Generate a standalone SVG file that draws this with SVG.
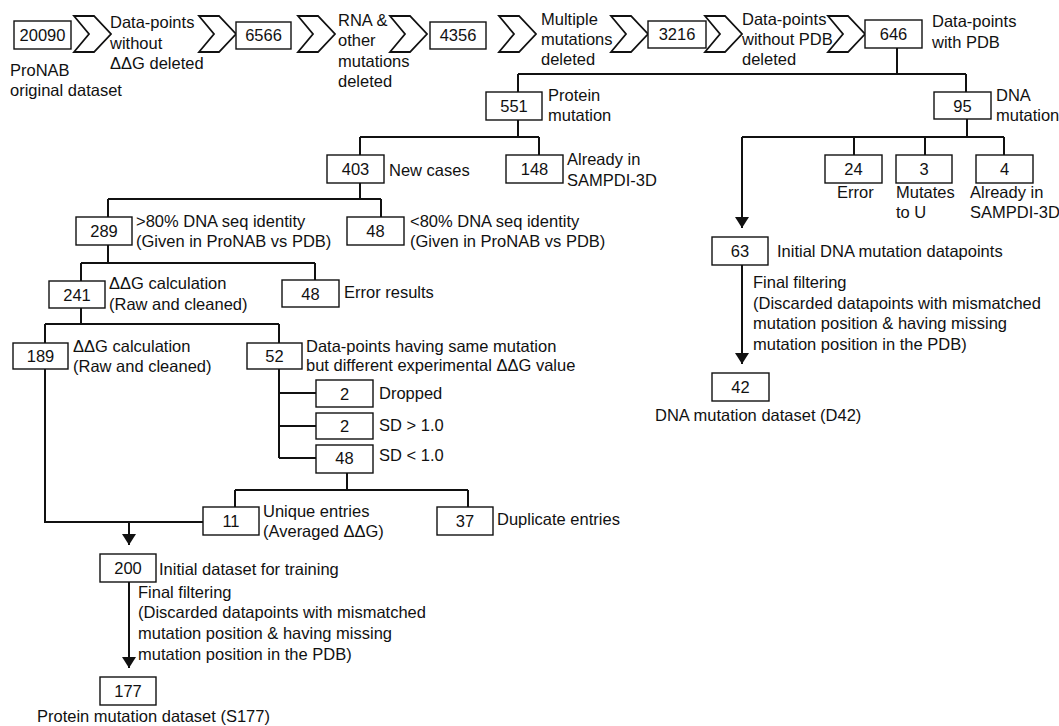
<svg xmlns="http://www.w3.org/2000/svg" width="1059" height="726" viewBox="0 0 1059 726">
<defs>
<style>
text{font-family:"Liberation Sans",Arial,sans-serif;font-size:16.5px;fill:#111}
.n{text-anchor:middle}
.box{fill:#fff;stroke:#111;stroke-width:1.4}
.chev{fill:#fff;stroke:#111;stroke-width:1.8;stroke-linejoin:miter}
.ln{fill:none;stroke:#111;stroke-width:2}
</style>
<marker id="ad" markerUnits="userSpaceOnUse" markerWidth="14" markerHeight="11" refX="7" refY="11" orient="0" viewBox="0 0 14 11">
<path d="M0,0 L14,0 L7,11 Z" fill="#111"/>
</marker>
<path id="chevron" d="M0,0 L20,0 L37,18 L20,36 L0,36 L15,18 Z"/>
</defs>
<rect width="1059" height="726" fill="#fff"/>

<g id="chevrons">
<use href="#chevron" class="chev" x="74" y="16"/>
<use href="#chevron" class="chev" x="199" y="16"/>
<use href="#chevron" class="chev" x="298" y="16"/>
<use href="#chevron" class="chev" x="390" y="16"/>
<use href="#chevron" class="chev" x="499" y="16"/>
<use href="#chevron" class="chev" x="611" y="16"/>
<use href="#chevron" class="chev" x="705" y="16"/>
<use href="#chevron" class="chev" x="828" y="16"/>
</g>

<g id="connectors">
<path class="ln" d="M897,48 V74 M518,74 H966 M518,74 V92 M966,74 V92"/>
<path class="ln" d="M518,120 V137 M360,137 H539 M360,137 V155 M539,137 V155"/>
<path class="ln" d="M360,183 V199 M108,199 H381 M108,199 V217 M381,199 V217"/>
<path class="ln" d="M108,245 V263 M81,263 H315 M81,263 V281 M315,263 V280"/>
<path class="ln" d="M81,308 V324 M45,324 H279 M45,324 V343 M279,324 V343"/>
<path class="ln" d="M279,369 V458 M279,393 H316 M279,426 H316 M279,458 H316"/>
<path class="ln" d="M347,473 V490 M235,490 H468 M235,490 V507 M468,490 V507"/>
<path class="ln" d="M45,369 V522 H203"/>
<path class="ln" d="M129,522 V545" marker-end="url(#ad)"/>
<path class="ln" d="M129,582 V668" marker-end="url(#ad)"/>
<path class="ln" d="M967,119 V137 M742,137 H1004 M854,137 V155 M925,137 V155 M1004,137 V155"/>
<path class="ln" d="M742,137 V228" marker-end="url(#ad)"/>
<path class="ln" d="M742,265 V364" marker-end="url(#ad)"/>
</g>

<g id="n20090"><rect class="box" x="14" y="21" width="57" height="28"/><text class="n" x="42.5" y="41">20090</text>
<text x="10" y="76">ProNAB</text><text x="10" y="96">original dataset</text></g>
<g id="t-del1"><text x="110" y="28">Data-points</text><text x="110" y="49">without</text><text x="110" y="69">ΔΔG deleted</text></g>
<g id="n6566"><rect class="box" x="236" y="22" width="55" height="27"/><text class="n" x="263.5" y="41">6566</text></g>
<g id="t-del2"><text x="338" y="26">RNA &amp;</text><text x="338" y="46">other</text><text x="338" y="67">mutations</text><text x="338" y="87">deleted</text></g>
<g id="n4356"><rect class="box" x="430" y="22" width="56" height="27"/><text class="n" x="458" y="41">4356</text></g>
<g id="t-del3"><text x="541" y="25">Multiple</text><text x="541" y="45">mutations</text><text x="541" y="65">deleted</text></g>
<g id="n3216"><rect class="box" x="648" y="21" width="58" height="27"/><text class="n" x="677" y="40">3216</text></g>
<g id="t-del4"><text x="742" y="25">Data-points</text><text x="742" y="45">without PDB</text><text x="742" y="65">deleted</text></g>
<g id="n646"><rect class="box" x="865" y="20" width="57" height="28"/><text class="n" x="893.5" y="40">646</text>
<text x="932" y="27">Data-points</text><text x="932" y="48">with PDB</text></g>

<g id="n551"><rect class="box" x="486" y="92" width="56" height="28"/><text class="n" x="514" y="112">551</text>
<text x="548" y="101">Protein</text><text x="548" y="121">mutation</text></g>
<g id="n95"><rect class="box" x="934" y="92" width="57" height="27"/><text class="n" x="962.5" y="112">95</text>
<text x="996" y="101">DNA</text><text x="996" y="121">mutation</text></g>

<g id="n403"><rect class="box" x="327" y="155" width="57" height="28"/><text class="n" x="355.5" y="175">403</text><text x="389" y="176">New cases</text></g>
<g id="n148"><rect class="box" x="506" y="155" width="57" height="28"/><text class="n" x="534.5" y="175">148</text>
<text x="567" y="165">Already in</text><text x="567" y="186">SAMPDI-3D</text></g>

<g id="n289"><rect class="box" x="76" y="217" width="56" height="28"/><text class="n" x="104" y="237">289</text>
<text x="136" y="227">&gt;80% DNA seq identity</text><text x="136" y="247">(Given in ProNAB vs PDB)</text></g>
<g id="n48a"><rect class="box" x="347" y="217" width="57" height="28"/><text class="n" x="375.5" y="237">48</text>
<text x="410" y="227">&lt;80% DNA seq identity</text><text x="410" y="247">(Given in ProNAB vs PDB)</text></g>

<g id="n241"><rect class="box" x="49" y="281" width="56" height="27"/><text class="n" x="77" y="301">241</text>
<text x="109" y="289">ΔΔG calculation</text><text x="109" y="310">(Raw and cleaned)</text></g>
<g id="n48b"><rect class="box" x="282" y="280" width="57" height="27"/><text class="n" x="310.5" y="300">48</text><text x="344" y="298">Error results</text></g>

<g id="n189"><rect class="box" x="13" y="343" width="55" height="26"/><text class="n" x="40.5" y="362">189</text>
<text x="73" y="352">ΔΔG calculation</text><text x="73" y="372">(Raw and cleaned)</text></g>
<g id="n52"><rect class="box" x="247" y="343" width="55" height="26"/><text class="n" x="274.5" y="362">52</text>
<text x="306" y="352">Data-points having same mutation</text><text x="306" y="371">but different experimental ΔΔG value</text></g>

<g id="n2a"><rect class="box" x="316" y="380" width="57" height="27"/><text class="n" x="344.5" y="400">2</text><text x="379" y="399">Dropped</text></g>
<g id="n2b"><rect class="box" x="316" y="413" width="57" height="26"/><text class="n" x="344.5" y="432">2</text><text x="379" y="431">SD &gt; 1.0</text></g>
<g id="n48c"><rect class="box" x="316" y="445" width="57" height="28"/><text class="n" x="344.5" y="464">48</text><text x="379" y="461">SD &lt; 1.0</text></g>

<g id="n11"><rect class="box" x="203" y="507" width="56" height="28"/><text class="n" x="231" y="527">11</text>
<text x="263" y="517">Unique entries</text><text x="263" y="537">(Averaged ΔΔG)</text></g>
<g id="n37"><rect class="box" x="437" y="507" width="56" height="28"/><text class="n" x="465" y="527">37</text><text x="497" y="525">Duplicate entries</text></g>

<g id="n200"><rect class="box" x="100" y="554" width="56" height="28"/><text class="n" x="128" y="574">200</text><text x="159" y="575">Initial dataset for training</text></g>
<g id="t-ff1"><text x="138" y="598">Final filtering</text><text x="138" y="618">(Discarded datapoints with mismatched</text><text x="138" y="639">mutation position &amp; having missing</text><text x="138" y="660">mutation position in the PDB)</text></g>
<g id="n177"><rect class="box" x="100" y="677" width="56" height="28"/><text class="n" x="128" y="697">177</text>
<text x="37" y="722">Protein mutation dataset (S177)</text></g>

<g id="n24"><rect class="box" x="825" y="155" width="57" height="28"/><text class="n" x="853.5" y="175">24</text><text x="837" y="198">Error</text></g>
<g id="n3"><rect class="box" x="896" y="155" width="56" height="28"/><text class="n" x="924" y="175">3</text><text x="896" y="198">Mutates</text><text x="896" y="218">to U</text></g>
<g id="n4"><rect class="box" x="976" y="155" width="57" height="28"/><text class="n" x="1004.5" y="175">4</text><text x="970" y="198">Already in</text><text x="970" y="218">SAMPDI-3D</text></g>

<g id="n63"><rect class="box" x="712" y="237" width="56" height="28"/><text class="n" x="740" y="257">63</text><text x="777" y="257">Initial DNA mutation datapoints</text></g>
<g id="t-ff2"><text x="753" y="288">Final filtering</text><text x="753" y="309">(Discarded datapoints with mismatched</text><text x="753" y="329">mutation position &amp; having missing</text><text x="753" y="350">mutation position in the PDB)</text></g>
<g id="n42"><rect class="box" x="712" y="373" width="57" height="28"/><text class="n" x="740.5" y="393">42</text>
<text x="655" y="421">DNA mutation dataset (D42)</text></g>
</svg>
